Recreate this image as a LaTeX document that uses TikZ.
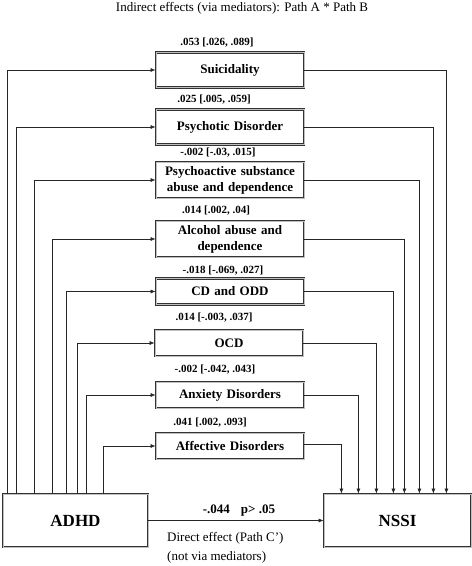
\documentclass[tikz,border=0pt]{standalone}
\usepackage{fontspec}
\setmainfont{Liberation Serif}
\usetikzlibrary{arrows.meta, positioning, calc}

\begin{document}
\begin{tikzpicture}[
  x=1pt, y=-1pt,
  medbox/.style={rectangle, draw=black!80, double=black!25, double distance=0.9pt, line width=0.8pt,
               text width=142pt, inner xsep=3pt, minimum height=26pt, align=center,
               font=\fontsize{13}{16}\selectfont\bfseries},
  endbox/.style={rectangle, draw=black!80, double=black!25, double distance=0.9pt, line width=0.8pt,
               minimum height=53pt, font=\fontsize{17}{20}\selectfont\bfseries},
  est/.style={font=\fontsize{11}{13}\selectfont\bfseries, inner sep=0pt},
  note/.style={font=\fontsize{13}{19}\selectfont, inner sep=0pt},
  arrow/.style={-{Latex[length=5pt,width=4pt]}, line width=0.6pt, color=black!85}
]
\useasboundingbox (0,0) rectangle (472,566);

\node[note] (title) at (242,8) {Indirect effects (via mediators): Path A * Path B};

% mediators
\node[medbox, minimum height=35pt] (m1) at (230,70) {Suicidality};
\node[medbox, minimum height=35pt] (m2) at (230,127) {Psychotic Disorder};
\node[medbox, minimum height=36pt] (m3) at (230,180) {Psychoactive substance\\abuse and dependence};
\node[medbox, minimum height=36pt] (m4) at (230,239) {Alcohol abuse and\\dependence};
\node[medbox] (m5) at (230,291.5) {CD and ODD};
\node[medbox] (m6) at (229,343) {OCD};
\node[medbox] (m7) at (230,395) {Anxiety Disorders};
\node[medbox] (m8) at (230,446) {Affective Disorders};

\node[est] (e1) at (217,43) {.053 [.026, .089]};
\node[est] (e2) at (214,100) {.025 [.005, .059]};
\node[est] (e3) at (218,153) {-.002 [-.03, .015]};
\node[est] (e4) at (216,211) {.014 [.002, .04]};
\node[est] (e5) at (223,271) {-.018 [-.069, .027]};
\node[est] (e6) at (214,318) {.014 [-.003, .037]};
\node[est] (e7) at (215,370) {-.002 [-.042, .043]};
\node[est] (e8) at (210,423) {.041 [.002, .093]};

\node[endbox, minimum width=145pt] (adhd) at (75.5,520.5) {ADHD};
\node[endbox, minimum width=147pt] (nssi) at (397.5,520.5) {NSSI};

% path A
\draw[arrow] ([xshift=5pt]adhd.north west) |- (m1.west);
\draw[arrow] ([xshift=14pt]adhd.north west) |- (m2.west);
\draw[arrow] ([xshift=32pt]adhd.north west) |- (m3.west);
\draw[arrow] ([xshift=50pt]adhd.north west) |- (m4.west);
\draw[arrow] ([xshift=64pt]adhd.north west) |- (m5.west);
\draw[arrow] ([xshift=75pt]adhd.north west) |- (m6.west);
\draw[arrow] ([xshift=84pt]adhd.north west) |- (m7.west);
\draw[arrow] ([xshift=101pt]adhd.north west) |- (m8.west);

% path B
\draw[arrow] (m1.east) -| ([xshift=-25pt]nssi.north east);
\draw[arrow] (m2.east) -| ([xshift=-38pt]nssi.north east);
\draw[arrow] (m3.east) -| ([xshift=-52pt]nssi.north east);
\draw[arrow] (m4.east) -| ([xshift=-67pt]nssi.north east);
\draw[arrow] (m5.east) -| ([xshift=-78pt]nssi.north east);
\draw[arrow] (m6.east) -| ([xshift=-95pt]nssi.north east);
\draw[arrow] (m7.east) -| ([xshift=-113pt]nssi.north east);
\draw[arrow] ([yshift=2pt]m8.east) -| ([xshift=-130pt]nssi.north east);

% direct effect
\draw[arrow] (adhd) -- (nssi);
\node[est, font=\fontsize{13}{15}\selectfont\bfseries] (c) at (239,511) {-.044\hspace{11pt}p> .05};
\node[note, anchor=west, align=left] (direct) at (167,547.5) {Direct effect (Path C')\\(not via mediators)};

\end{tikzpicture}
\end{document}
